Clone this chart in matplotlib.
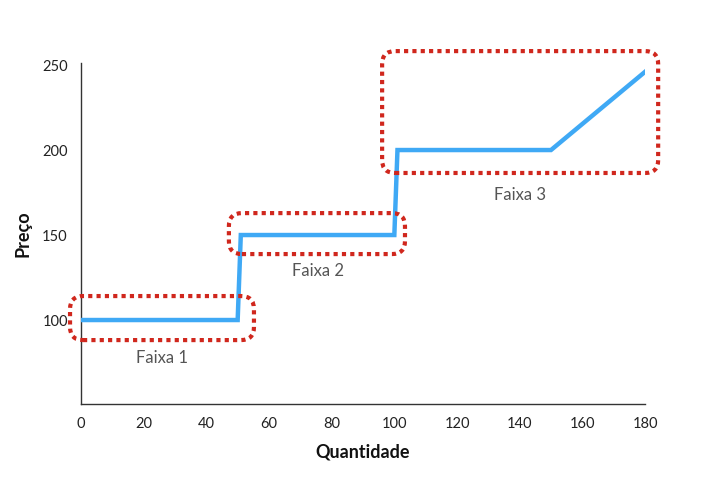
import matplotlib
matplotlib.use("Agg")
import matplotlib.pyplot as plt
from matplotlib.patches import FancyBboxPatch

plt.rcParams['font.family'] = ['Lato', 'DejaVu Sans']

# Data
quantidade = [0, 50, 51, 100, 101, 150, 180]
preco = [100, 100, 150, 150, 200, 200, 246]
x_ticks = [0, 20, 40, 60, 80, 100, 120, 140, 160, 180]
y_ticks = [100, 150, 200, 250]

# Faixa boxes (data units): x0, x1, y0, y1
faixa_names = ["Faixa 1", "Faixa 2", "Faixa 3"]
faixa_x0 = [-3.5, 47.2, 96.1]
faixa_x1 = [55.2, 103.4, 184.2]
faixa_y0 = [88.2, 138.8, 186.5]
faixa_y1 = [114.1, 162.9, 258.2]
label_x = [25.9, 75.6, 140.1]
label_y = [77.6, 128.8, 173.5]

fig = plt.figure(figsize=(7.03, 4.82), dpi=100)
W, H = 703, 482
ax = fig.add_axes([81 / W, (H - 404) / H, (645 - 81) / W, (404 - 63) / H])
ax.set_xlim(0, 180)
ax.set_ylim(50.6, 251.2)

ax.plot(quantidade, preco, color='#3fa9f5', lw=3.2, solid_joinstyle='miter', zorder=3)

for s in ['top', 'right']:
    ax.spines[s].set_visible(False)
for s in ['left', 'bottom']:
    ax.spines[s].set_color('#333333')
    ax.spines[s].set_linewidth(1.0)

ax.set_xticks(x_ticks)
ax.set_yticks(y_ticks)
ax.tick_params(length=0, labelsize=10.5, colors='#222222')
ax.tick_params(axis='x', pad=9)
ax.tick_params(axis='y', pad=9.5)

ax.set_xlabel('Quantidade', fontsize=13, fontweight='bold', labelpad=9, color='#111111')
ax.set_ylabel('Preço', fontsize=13, fontweight='bold', labelpad=8, color='#111111')

fig.canvas.draw()
for x0, x1, y0, y1 in zip(faixa_x0, faixa_x1, faixa_y0, faixa_y1):
    (px0, py0) = ax.transData.transform((x0, y0))
    (px1, py1) = ax.transData.transform((x1, y1))
    r = 13
    box = FancyBboxPatch((px0 + r, py0 + r), (px1 - px0) - 2 * r, (py1 - py0) - 2 * r,
                         boxstyle=f"round,pad={r}", transform=None,
                         fill=False, edgecolor='#d0271d', lw=3.0,
                         linestyle=(0, (1.0, 1.0)), zorder=4)
    fig.add_artist(box)

for name, lx, ly in zip(faixa_names, label_x, label_y):
    ax.text(lx, ly, name, ha='center', va='center', fontsize=12,
            fontweight='normal', color='#555555')

fig.savefig('out.png', dpi=100)
